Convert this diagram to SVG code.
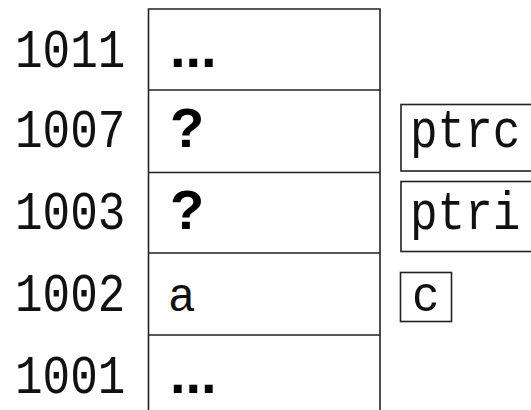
<svg xmlns="http://www.w3.org/2000/svg" width="531" height="410" viewBox="0 0 531 410">
<style>
.tt{font-family:"Liberation Mono","DejaVu Sans Mono",monospace;font-size:46px;fill:#111}
.bold{font-family:"Liberation Sans",Arial,sans-serif;font-weight:bold;font-size:56px;fill:#000}
.box{fill:none;stroke:#222;stroke-width:1.6}
</style>
<rect width="531" height="410" fill="#fff"/>
<g id="memory">
<path class="box" d="M148.5,420 V9 H380 V420"/>
<line class="box" x1="148.5" y1="90" x2="380" y2="90"/>
<line class="box" x1="148.5" y1="172.5" x2="380" y2="172.5"/>
<line class="box" x1="148.5" y1="253" x2="380" y2="253"/>
<line class="box" x1="148.5" y1="335" x2="380" y2="335"/>
</g>
<g id="addresses">
<text class="tt" transform="translate(15,66.5) scale(1,1.15)">1011</text>
<text class="tt" transform="translate(15,146.5) scale(1,1.15)">1007</text>
<text class="tt" transform="translate(15,229) scale(1,1.15)">1003</text>
<text class="tt" transform="translate(15,311) scale(1,1.15)">1002</text>
<text class="tt" transform="translate(15,392.5) scale(1,1.15)">1001</text>
</g>
<g id="cell1011"><text class="bold" x="170" y="66.5">...</text></g>
<g id="cell1007"><text class="bold" x="170" y="146.5">?</text></g>
<g id="cell1003"><text class="bold" x="170" y="229">?</text></g>
<g id="cell1002"><text class="tt" transform="translate(168,311) scale(1,1.05)">a</text></g>
<g id="cell1001"><text class="bold" x="170" y="392.5">...</text></g>
<g id="ptrc"><rect class="box" x="401" y="104.5" width="140" height="66.5"/><text class="tt" transform="translate(410,147) scale(1,1.15)">ptrc</text></g>
<g id="ptri"><rect class="box" x="401" y="181.5" width="140" height="70"/><text class="tt" transform="translate(410,229) scale(1,1.15)">ptri</text></g>
<g id="c"><rect class="box" x="400.5" y="272.5" width="51" height="49"/><text class="tt" transform="translate(412,311) scale(1,1.1)">c</text></g>
</svg>
